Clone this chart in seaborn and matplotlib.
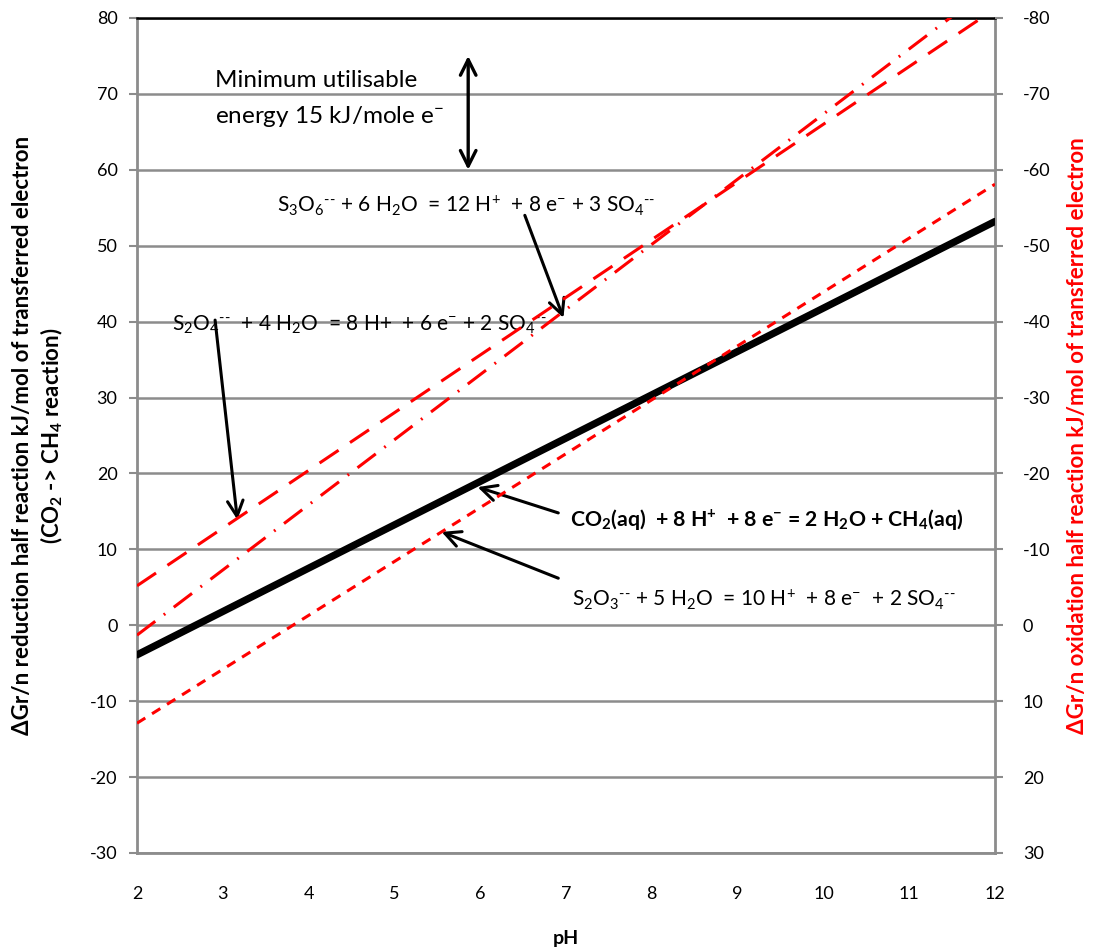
import matplotlib
matplotlib.use("Agg")
import matplotlib.pyplot as plt
import pandas as pd
import seaborn as sns

# ---- data ----
ph = [2, 12]
co2_ch4 = [-3.9, 53.2]      # CO2(aq) -> CH4(aq), black solid
s2o3 = [-12.9, 58.1]        # S2O3-- oxidation, red short dash
s3o6 = [-1.3, 84.5]         # S3O6-- oxidation, red dash-dot
s2o4 = [5.2, 81.2]          # S2O4-- oxidation, red long dash

x_ticks = list(range(2, 13))
y_ticks_left = list(range(-30, 81, 10))
y_ticks_right = [-v for v in y_ticks_left]

energy_gap = [60, 75]       # minimum utilisable energy arrow (15 kJ)

sns.set_theme(style="white")
plt.rcParams['font.family'] = ['Lato', 'DejaVu Sans']
plt.rcParams['mathtext.fontset'] = 'custom'
plt.rcParams['mathtext.rm'] = 'Lato'
plt.rcParams['mathtext.it'] = 'Lato:italic'
plt.rcParams['mathtext.bf'] = 'Lato:bold'
plt.rcParams['text.color'] = 'black'
plt.rcParams['axes.labelcolor'] = 'black'

fig = plt.figure(figsize=(11, 9.49), dpi=100)
ax = fig.add_axes([0.12455, 0.10116, 0.78, 0.8799])

df = pd.DataFrame({"pH": ph, "co2": co2_ch4, "s2o3": s2o3, "s3o6": s3o6, "s2o4": s2o4})

sns.lineplot(data=df, x="pH", y="co2", ax=ax, color="black", lw=5.2, zorder=3)
sns.lineplot(data=df, x="pH", y="s2o3", ax=ax, color="#ff0000", lw=2.2,
             linestyle=(0, (3.2, 2.6)), zorder=4)
sns.lineplot(data=df, x="pH", y="s3o6", ax=ax, color="#ff0000", lw=2.2,
             linestyle=(0, (7.5, 3.5, 0.6, 3.5)), zorder=4)
sns.lineplot(data=df, x="pH", y="s2o4", ax=ax, color="#ff0000", lw=2.2,
             linestyle=(0, (7.5, 4.5)), zorder=4)

ax.set_xlim(2, 12)
ax.set_ylim(-30, 80)
ax.set_xticks(x_ticks)
ax.set_xticklabels([str(v) for v in x_ticks])
ax.set_yticks(y_ticks_left)
ax.set_yticklabels([str(v) for v in y_ticks_left])
ax.yaxis.grid(True, color="#8c8c8c", lw=1.8)
ax.set_axisbelow(True)
for side in ["left", "bottom", "right"]:
    ax.spines[side].set_color("#8c8c8c")
    ax.spines[side].set_linewidth(2)
ax.spines["top"].set_color("black")
ax.spines["top"].set_linewidth(1.8)
ax.tick_params(axis="both", direction="out", length=6, width=1.5, color="#8c8c8c",
               labelsize=13, labelcolor="black", pad=8)
ax.tick_params(axis="x", pad=18)
ax.set_xlabel("pH", fontsize=14, fontweight="bold", labelpad=20)
ax.set_ylabel("ΔGr/n reduction half reaction kJ/mol of transferred electron\n"
              r"(CO$_\mathbf{2}$ -> CH$_\mathbf{4}$ reaction)",
              fontsize=16, fontweight="bold", labelpad=18, linespacing=1.25)

tw = ax.twinx()
tw.set_ylim(30, -80)
tw.set_yticks(y_ticks_right)
tw.set_yticklabels([str(v) for v in y_ticks_right])
tw.grid(False)
for side in ["left", "bottom", "right", "top"]:
    tw.spines[side].set_visible(False)
tw.tick_params(axis="y", direction="out", length=6, width=1.5, color="#8c8c8c",
               labelsize=13, labelcolor="black", pad=14)
tw.set_ylabel("ΔGr/n oxidation half reaction kJ/mol of transferred electron",
              fontsize=16, fontweight="bold", color="#ff0000", labelpad=12)

# ---- annotations ----
arrow_kw = dict(arrowstyle="->", lw=2.2, color="black", mutation_scale=28,
                shrinkA=0, shrinkB=0)
ax.annotate("", xy=(5.86, energy_gap[0]), xytext=(5.86, energy_gap[1]),
            arrowprops=dict(arrowstyle="<->", lw=2.4, color="black",
                            mutation_scale=28, shrinkA=0, shrinkB=0))
ax.text(2.91, 71.7, "Minimum utilisable", fontsize=17.5, va="center", ha="left")
ax.text(2.91, 67.0, r"energy 15 kJ/mole e$^{-}$", fontsize=17.5, va="center", ha="left")

dd = r"$^{\text{--}}$"
ax.text(3.63, 55.3,
        r"S$_3$O$_6$" + dd + r" + 6 H$_2$O  = 12 H$^{+}$  + 8 e$^{-}$ + 3 SO$_4$" + dd,
        fontsize=15, va="center", ha="left")
ax.annotate("", xy=(6.97, 40.5), xytext=(6.52, 54.0), arrowprops=arrow_kw)

ax.text(2.41, 39.6,
        r"S$_2$O$_4$" + dd + r"  + 4 H$_2$O  = 8 H+  + 6 e$^{-}$ + 2 SO$_4$" + dd,
        fontsize=15, va="center", ha="left")
ax.annotate("", xy=(3.17, 13.9), xytext=(2.91, 40.2), arrowprops=arrow_kw)

ax.text(7.05, 13.9,
        r"CO$_\mathbf{2}$(aq)  + 8 H$^\mathbf{+}$  + 8 e$^\mathbf{-}$ = 2 H$_\mathbf{2}$O + CH$_\mathbf{4}$(aq)",
        fontsize=15.3, fontweight="bold", va="center", ha="left")
ax.annotate("", xy=(5.97, 18.2), xytext=(6.91, 14.8), arrowprops=arrow_kw)

ax.text(7.07, 3.4,
        r"S$_2$O$_3$" + dd + r" + 5 H$_2$O  = 10 H$^{+}$  + 8 e$^{-}$  + 2 SO$_4$" + dd,
        fontsize=15, va="center", ha="left")
ax.annotate("", xy=(5.55, 12.3), xytext=(6.91, 6.2), arrowprops=arrow_kw)

fig.savefig("out.png", dpi=100)
